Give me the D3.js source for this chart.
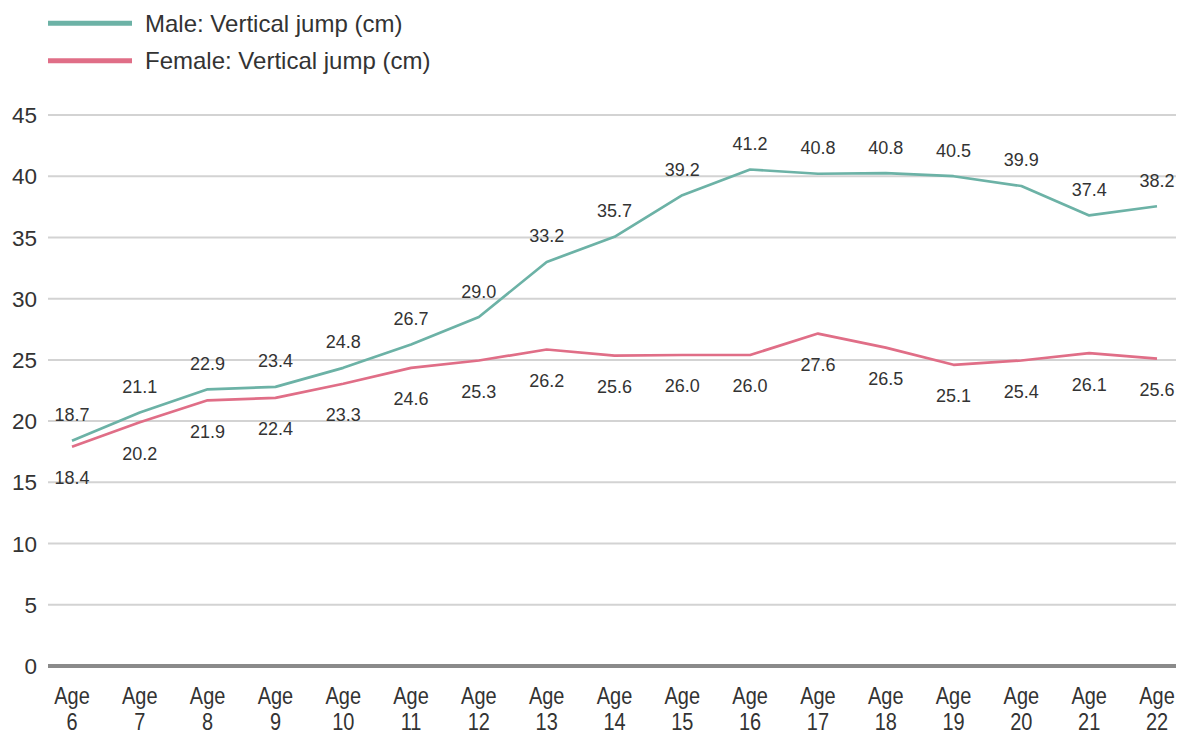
<!DOCTYPE html>
<html><head><meta charset="utf-8">
<script src="https://cdn.jsdelivr.net/npm/d3@7"></script>
<style>
html,body{margin:0;padding:0;background:#fff;}
svg{display:block;font-family:"Liberation Sans",Arial,Helvetica,sans-serif;}
</style></head>
<body><svg id="c" width="1179" height="740"></svg>
<script>
const ages = ["6","7","8","9","10","11","12","13","14","15","16","17","18","19","20","21","22"];
// plotted positions (as drawn)
const maleLine = [18.4,20.7,22.6,22.8,24.35,26.25,28.5,33.0,35.05,38.45,40.55,40.2,40.25,40.0,39.2,36.8,37.55];
const femaleLine = [17.9,19.9,21.7,21.9,23.05,24.35,24.95,25.85,25.35,25.4,25.4,27.15,26.0,24.6,24.95,25.55,25.1];
// printed data labels
const maleLabels = ["18.7","21.1","22.9","23.4","24.8","26.7","29.0","33.2","35.7","39.2","41.2","40.8","40.8","40.5","39.9","37.4","38.2"];
const femaleLabels = ["18.4","20.2","21.9","22.4","23.3","24.6","25.3","26.2","25.6","26.0","26.0","27.6","26.5","25.1","25.4","26.1","25.6"];
const yTicks = [0,5,10,15,20,25,30,35,40,45];
const seriesNames = ["Male: Vertical jump (cm)","Female: Vertical jump (cm)"];
const colors = ["#6cb2a6","#e06e87"];

const svg = d3.select("#c");
const x = d3.scalePoint().domain(ages).range([72,1157]);
const y = d3.scaleLinear().domain([0,45]).range([666,115]);

// gridlines
svg.append("g").selectAll("line").data(yTicks.filter(d=>d>0)).join("line")
  .attr("x1",48).attr("x2",1176).attr("y1",d=>y(d)).attr("y2",d=>y(d))
  .attr("stroke","#d3d3d3").attr("stroke-width",2);
svg.append("line").attr("x1",48).attr("x2",1176).attr("y1",y(0)).attr("y2",y(0))
  .attr("stroke","#8a8a8a").attr("stroke-width",4);

// y axis labels
svg.append("g").selectAll("text").data(yTicks).join("text")
  .attr("x",37).attr("y",d=>y(d)).attr("dy","0.36em").attr("text-anchor","end")
  .attr("font-size",22.5).attr("fill","#333").text(d=>d);

// x axis labels (condensed)
const xg = svg.append("g").selectAll("g").data(ages).join("g")
  .attr("transform",d=>`translate(${x(d)},0) scale(0.85,1)`);
xg.append("text").attr("y",704).attr("text-anchor","middle").attr("font-size",23.5)
  .attr("fill","#333").text("Age");
xg.append("text").attr("y",730).attr("text-anchor","middle").attr("font-size",23.5)
  .attr("fill","#333").text(d=>d);

// lines
const line = d3.line().x((d,i)=>x(ages[i])).y(d=>y(d));
[maleLine,femaleLine].forEach((s,k)=>{
  svg.append("path").datum(s).attr("d",line).attr("fill","none")
    .attr("stroke",colors[k]).attr("stroke-width",2.7).attr("stroke-linejoin","round");
});

// data labels
svg.append("g").selectAll("text").data(maleLabels).join("text")
  .attr("x",(d,i)=>x(ages[i])).attr("y",(d,i)=>y(maleLine[i])-26).attr("dy","0.36em")
  .attr("text-anchor","middle").attr("font-size",18).attr("fill","#333").text(d=>d);
svg.append("g").selectAll("text").data(femaleLabels).join("text")
  .attr("x",(d,i)=>x(ages[i])).attr("y",(d,i)=>y(femaleLine[i])+31).attr("dy","0.36em")
  .attr("text-anchor","middle").attr("font-size",18).attr("fill","#333").text(d=>d);

// legend
const lg = svg.append("g").selectAll("g").data(seriesNames).join("g")
  .attr("transform",(d,i)=>`translate(48,${23.3+i*37.5})`);
lg.append("line").attr("x1",0).attr("x2",84).attr("stroke",(d,i)=>colors[i]).attr("stroke-width",5);
lg.append("text").attr("x",97).attr("dy","0.36em").attr("font-size",24).attr("fill","#333").text(d=>d);
</script></body></html>
